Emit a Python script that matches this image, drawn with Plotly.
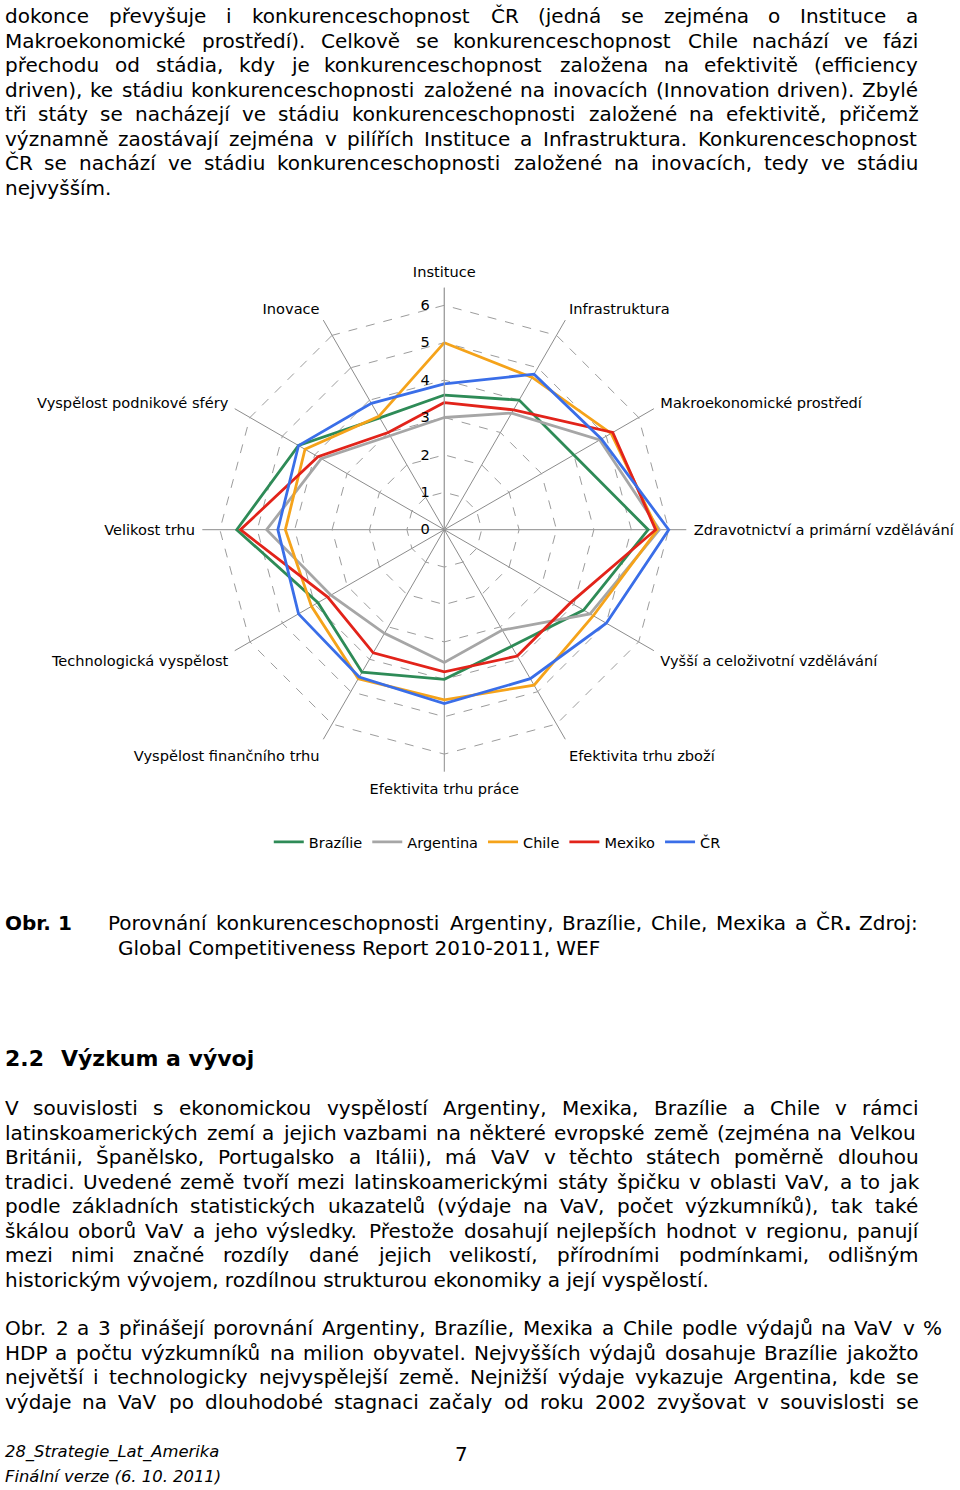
import unicodedata
import plotly.graph_objects as go

W, H = 960, 1490

# ---------------- chart data ----------------
pillars = ["Instituce", "Infrastruktura", "Makroekonomické prostředí",
           "Zdravotnictví a primární vzdělávání", "Vyšší a celoživotní vzdělávání",
           "Efektivita trhu zboží", "Efektivita trhu práce", "Vyspělost finančního trhu",
           "Technologická vyspělost", "Velikost trhu", "Vyspělost podnikové sféry", "Inovace"]

brazilie = [3.6, 4.0, 4.0, 5.45, 4.3, 3.6, 4.0, 4.4, 3.9, 5.55, 4.5, 3.45]
argentina = [3.0, 3.6, 4.8, 5.75, 4.5, 3.1, 3.55, 3.2, 3.5, 4.75, 3.8, 2.9]
chile = [5.0, 4.7, 5.15, 5.7, 4.6, 4.8, 4.55, 4.6, 4.1, 4.25, 4.3, 3.5]
mexiko = [3.4, 3.7, 5.2, 5.65, 3.9, 3.9, 3.8, 3.8, 3.6, 5.45, 3.9, 3.0]
cr = [3.9, 4.8, 4.85, 6.0, 5.0, 4.6, 4.65, 4.55, 4.5, 4.45, 4.5, 3.9]

series_names = ["Brazílie", "Argentina", "Chile", "Mexiko", "ČR"]
series_values = [brazilie, argentina, chile, mexiko, cr]
series_colors = ["#2E8B57", "#A6A6A6", "#F5A31A", "#E2231A", "#3A6EE8"]

radial_ticks = [0, 1, 2, 3, 4, 5, 6]

# ---------------- page text ----------------
para1 = [
    "dokonce převyšuje i konkurenceschopnost ČR (jedná se zejména o Instituce a",
    "Makroekonomické prostředí). Celkově se konkurenceschopnost Chile nachází ve fázi",
    "přechodu od stádia, kdy je konkurenceschopnost založena na efektivitě (efficiency",
    "driven), ke stádiu konkurenceschopnosti založené na inovacích (Innovation driven). Zbylé",
    "tři státy se nacházejí ve stádiu konkurenceschopnosti založené na efektivitě, přičemž",
    "významně zaostávají zejména v pilířích Instituce a Infrastruktura. Konkurenceschopnost",
    "ČR se nachází ve stádiu konkurenceschopnosti založené na inovacích, tedy ve stádiu",
    "nejvyšším.",
]
para2 = [
    "V souvislosti s ekonomickou vyspělostí Argentiny, Mexika, Brazílie a Chile v rámci",
    "latinskoamerických zemí a jejich vazbami na některé evropské země (zejména na Velkou",
    "Británii, Španělsko, Portugalsko a Itálii), má VaV v těchto státech poměrně dlouhou",
    "tradici. Uvedené země tvoří mezi latinskoamerickými státy špičku v oblasti VaV, a to jak",
    "podle základních statistických ukazatelů (výdaje na VaV, počet výzkumníků), tak také",
    "škálou oborů VaV a jeho výsledky. Přestože dosahují nejlepších hodnot v regionu, panují",
    "mezi nimi značné rozdíly dané jejich velikostí, přírodními podmínkami, odlišným",
    "historickým vývojem, rozdílnou strukturou ekonomiky a její vyspělostí.",
]
para3 = [
    "Obr. 2 a 3 přinášejí porovnání Argentiny, Brazílie, Mexika a Chile podle výdajů na VaV v %",
    "HDP a počtu výzkumníků na milion obyvatel. Nejvyšších výdajů dosahuje Brazílie jakožto",
    "největší i technologicky nejvyspělejší země. Nejnižší výdaje vykazuje Argentina, kde se",
    "výdaje na VaV po dlouhodobé stagnaci začaly od roku 2002 zvyšovat v souvislosti se",
]

FONT = "DejaVu Sans"
BODY = 20

ADV = {' ': 651, '!': 821, '%': 1946, '(': 799, ')': 799, ',': 651, '-': 739, '.': 651,
       ':': 690, ';': 690, '_': 1024,
       'A': 1401, 'B': 1405, 'C': 1430, 'D': 1577, 'E': 1294, 'F': 1178, 'G': 1587, 'H': 1540,
       'I': 604, 'J': 604, 'K': 1343, 'L': 1141, 'M': 1767, 'N': 1532, 'O': 1612, 'P': 1235,
       'Q': 1612, 'R': 1423, 'S': 1300, 'T': 1251, 'U': 1499, 'V': 1401, 'W': 2025, 'X': 1403,
       'Y': 1251, 'Z': 1403,
       'a': 1255, 'b': 1300, 'c': 1126, 'd': 1300, 'e': 1260, 'f': 721, 'g': 1300, 'h': 1298,
       'i': 569, 'j': 569, 'k': 1186, 'l': 569, 'm': 1995, 'n': 1298, 'o': 1253, 'p': 1300,
       'q': 1300, 'r': 842, 's': 1067, 't': 803, 'u': 1298, 'v': 1212, 'w': 1675, 'x': 1212,
       'y': 1212, 'z': 1075}


def tw(s, size):
    tot = 0
    for ch in s:
        base = unicodedata.normalize("NFD", ch)[0]
        if base.isdigit():
            tot += 1303
        else:
            tot += ADV.get(base, 1200)
    return tot / 2048.0 * size


annotations = []


def ann(text, x, y, size=BODY, anchor="left"):
    annotations.append(dict(text=text, x=x / W, y=1 - y / H, xref="paper", yref="paper",
                            xanchor=anchor, yanchor="middle", showarrow=False,
                            font=dict(family=FONT, size=size, color="black")))


def line(text, left, right, baseline, justify=True, size=BODY, display=None):
    ymid = baseline - 0.346 * size
    display = display or {}
    if not justify:
        ann(text, left, ymid, size)
        return
    words = text.split(" ")
    widths = [tw(w, size) for w in words]
    gap = (right - left - sum(widths)) / (len(words) - 1)
    x = left
    for w, wd in zip(words, widths):
        ann(display.get(w, w), x, ymid, size)
        x += wd + gap


LEFT, RIGHT, PITCH = 2.5, 916.5, 24.5

for i, t in enumerate(para1):
    line(t, LEFT, RIGHT, 23 + i * PITCH, justify=(i < len(para1) - 1))
for i, t in enumerate(para2):
    line(t, LEFT, RIGHT, 1115 + i * PITCH, justify=(i < len(para2) - 1))
for i, t in enumerate(para3):
    line(t, LEFT, 940 if i == 0 else RIGHT, 1335 + i * PITCH)

# caption
ann("<b>Obr. 1</b>", LEFT, 930 - 0.346 * BODY)
line("Porovnání konkurenceschopnosti Argentiny, Brazílie, Chile, Mexika a ČR. Zdroj:", 106, 916, 930,
     display={"ČR.": "ČR<b>.</b>"})
ann("Global Competitiveness Report 2010-2011, WEF", 116, 955 - 0.346 * BODY)

# heading
ann("<b>2.2</b>", LEFT, 1066 - 0.346 * 22, size=22)
ann("<b>Výzkum a vývoj</b>", 59, 1066 - 0.346 * 22, size=22)

# footer
ann("<i>28_Strategie_Lat_Amerika</i>", LEFT, 1458 - 0.346 * 16.4, size=16.4)
ann("<i>Finální verze (6. 10. 2011)</i>", LEFT, 1482 - 0.346 * 16.4, size=16.4)
ann("7", 461, 1461 - 0.346 * 20, size=20, anchor="center")

# ---------------- chart ----------------
fig = go.Figure()
for name, vals, col in zip(series_names, series_values, series_colors):
    fig.add_trace(go.Scatterpolar(r=vals + vals[:1], theta=pillars + pillars[:1], mode="lines",
                                  name=name, line=dict(color=col, width=2.8)))

cx, cy, R = 444.3, 529.7, 242.0
fig.update_layout(
    width=W, height=H,
    margin=dict(l=0, r=0, t=0, b=0),
    paper_bgcolor="white", plot_bgcolor="white",
    font=dict(family=FONT, size=14.6, color="black"),
    polar=dict(
        domain=dict(x=[(cx - R) / W, (cx + R) / W], y=[1 - (cy + R) / H, 1 - (cy - R) / H]),
        bgcolor="white",
        gridshape="linear",
        radialaxis=dict(range=[0, 6.47], tickvals=radial_ticks, angle=90, tickangle=90,
                        side="counterclockwise", showline=True, linecolor="#A0A0A0",
                        linewidth=1, gridcolor="#9C9C9C", griddash="dash", gridwidth=1,
                        ticks="outside", ticklen=9, tickcolor="rgba(0,0,0,0)",
                        tickfont=dict(family=FONT, size=14.6, color="black")),
        angularaxis=dict(rotation=90, direction="clockwise", showline=False,
                         gridcolor="#8C8C8C", gridwidth=1, ticks="outside", ticklen=4,
                         tickcolor="rgba(0,0,0,0)",
                         tickfont=dict(family=FONT, size=14.6, color="black")),
    ),
    showlegend=True,
    legend=dict(orientation="h", x=0.518, xanchor="center", y=1 - 842 / H, yanchor="middle",
                font=dict(family=FONT, size=14.5, color="black"), bgcolor="rgba(0,0,0,0)"),
    annotations=annotations,
)

fig.write_html("out.html")
